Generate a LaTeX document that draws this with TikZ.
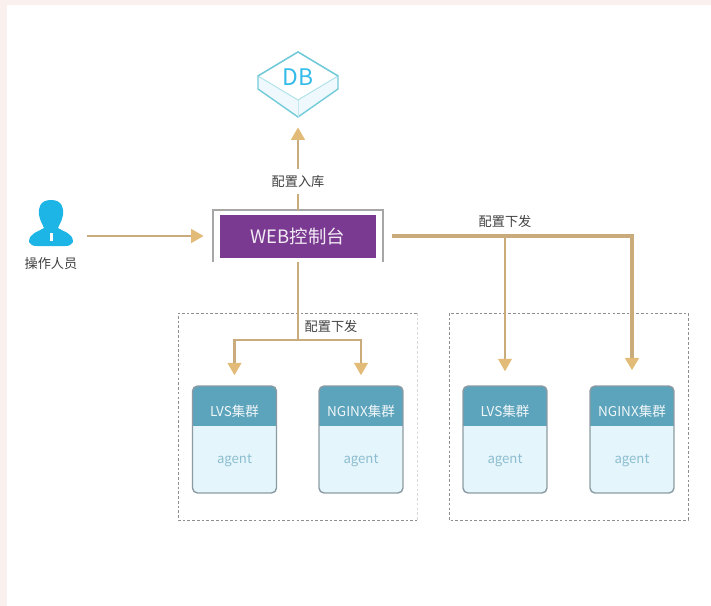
\documentclass[tikz,border=0pt]{standalone}
\usepackage{fontspec}
\setmainfont{Noto Sans CJK SC}
\usetikzlibrary{arrows.meta}
\definecolor{flowcol}{HTML}{C9AB7C}
\definecolor{tipcol}{HTML}{E2BB78}
\definecolor{dashcol}{HTML}{8E8E8E}
\definecolor{headcol}{HTML}{5CA3BC}
\definecolor{bodycol}{HTML}{E4F5FB}
\definecolor{edgecol}{HTML}{8C9BA3}
\definecolor{webcol}{HTML}{7B3A92}
\definecolor{usercol}{HTML}{1DB4E6}
\definecolor{dbcol}{HTML}{73CBD9}
\definecolor{pagecol}{HTML}{FAF0EE}
\tikzset{
  flow/.style={draw=flowcol, line width=0.055cm, -{Triangle[length=0.25cm,width=0.27cm,color=tipcol]}},
  flowline/.style={draw=flowcol, line width=0.055cm},
  caption/.style={font=\fontsize{7.5}{9}\selectfont, text=black!75, inner sep=1pt},
  groupbox/.style={draw=dashcol, dash pattern=on 1.5pt off 1.2pt, line width=0.5pt},
  cluster/.style={draw=edgecol, line width=0.8pt, rounded corners=0.1cm, fill=bodycol, minimum width=1.68cm, minimum height=2.14cm},
}
\begin{document}
\begin{tikzpicture}[x=0.02cm, y=-0.02cm]
\useasboundingbox (0,0) rectangle (711,606);

% page edge
\fill[pagecol] (0,0) rectangle (711,5);
\fill[pagecol] (0,0) rectangle (7,606);

% dashed groups
\draw[groupbox] (417,313) -- (178,313) -- (178,520) -- (417,520);
\draw[groupbox, draw=black!15] (417,313) -- (417,520);
\draw[groupbox] (449,313) rectangle (688,520);

% DB
\node (db) at (298,84) [minimum width=1.6cm, minimum height=1.32cm] {};
\draw[dbcol, line width=0.8pt, fill=bodycol!60] (298,52)--(338,76)--(338,89)--(298,117)--(258,89)--(258,76)--cycle;
\draw[dbcol!60, line width=0.5pt, fill=white] (298,52)--(338,76)--(298,100)--(258,76)--cycle;
\draw[dbcol, line width=0.8pt] (258,76)--(298,52)--(338,76);
\draw[dbcol!40, line width=0.4pt] (298,100)--(298,117);
\node[text=usercol!90!white, font=\fontsize{13}{15}\selectfont] (dbtext) at (298,77) {DB};

% WEB
\node (web) at (298,236) [minimum width=3.4cm, minimum height=1.04cm] {};
\draw[black!35, line width=1pt] (web.south west)--(web.north west)--(web.north east)--(web.south east);
\node (webin) at (298,236.5) [fill=webcol, text=white!90!webcol, minimum width=3.14cm, minimum height=0.86cm, font=\fontsize{10.5}{12}\selectfont] {WEB控制台};

% operator
\node (user) at (51,236) [minimum width=1.44cm, minimum height=0.2cm] {};
\fill[usercol] (51,200) .. controls (62,200) and (64,208) .. (63,215)
  .. controls (62,221) and (59,225) .. (58,228)
  .. controls (64,232) and (73,233) .. (73,242)
  .. controls (72,245) and (69,246) .. (65,246) -- (37,246)
  .. controls (33,246) and (30,245) .. (29,242)
  .. controls (29,233) and (38,232) .. (44,228)
  .. controls (43,225) and (40,221) .. (39,215)
  .. controls (38,208) and (40,200) .. (51,200) -- cycle;
\fill[white] (49.5,233) rectangle (52.5,241);
\node[caption] (usertext) at (51,264) {操作人员};

% clusters
\foreach \name/\x/\title in {lvsA/234.5/LVS集群, nginxA/361/NGINX集群, lvsB/505/LVS集群, nginxB/632/NGINX集群}{
  \node[cluster, path picture={\fill[headcol, sharp corners] (path picture bounding box.north west) rectangle ([yshift=-0.8cm]path picture bounding box.north east);}] (\name) at (\x,439.5) {};
  \node[text=white!90!headcol, font=\fontsize{7.7}{9}\selectfont] (\name head) at (\x,411) {\title};
  \node[text=headcol!70!white, font=\fontsize{7.5}{9}\selectfont] (\name body) at (\x,461) {agent};
}

% connectors
\coordinate (splitA) at (298,340);
\coordinate (splitB) at (505,236);

\draw[flow, shorten >=0.2cm] (web.north) -- (db.south) node[pos=0.31, fill=white, caption, minimum height=0.5cm] (savetext) {配置入库};
\draw[flow, shorten >=0.18cm] (user.east |- web) -- (web.west);
\draw[flowline] (web.south) -- (splitA);
\draw[flow, shorten >=0.2cm] (splitA) -| (lvsA.north);
\draw[flow, shorten >=0.2cm] (splitA) -| (nginxA.north);
\draw[flow, line width=0.065cm, shorten <=0.18cm, shorten >=0.3cm] (web.east) -| (nginxB.north);
\draw[flow, line width=0.045cm, shorten >=0.28cm] (splitB) -- (lvsB.north);

\node[caption] (sendA) at (331,326) {配置下发};
\node[caption] (sendB) at (505,221) {配置下发};

\end{tikzpicture}
\end{document}
